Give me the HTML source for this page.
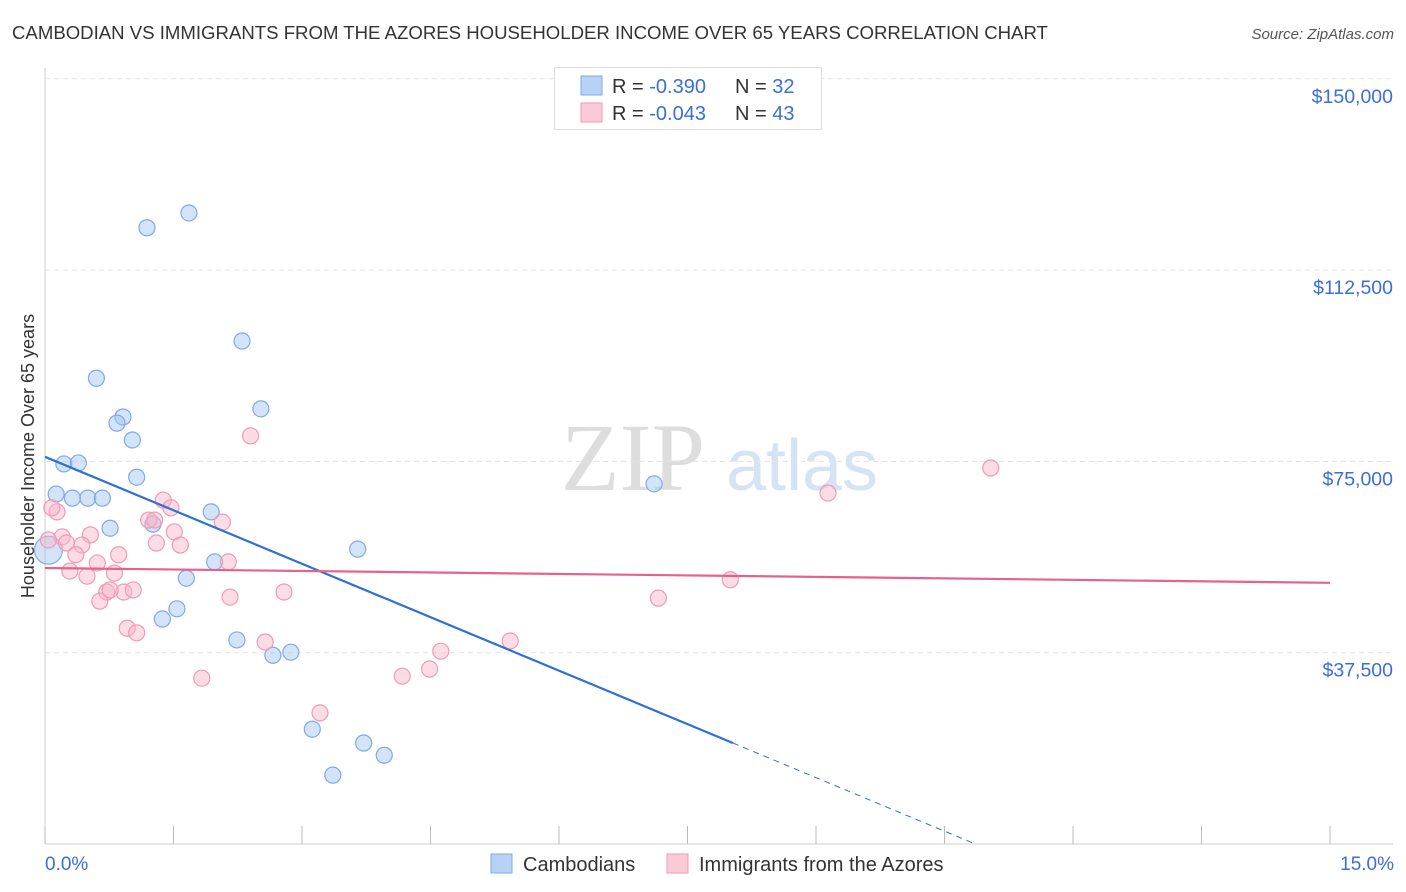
<!DOCTYPE html>
<html><head><meta charset="utf-8"><style>
body{margin:0;background:#fff;font-family:"Liberation Sans",sans-serif;}
#wrap{position:relative;width:1406px;height:892px;overflow:hidden;}
</style></head><body>
<div id="wrap">
<svg id="svg" width="1406" height="892">
<text x="12" y="39" font-size="18.6" fill="#333">CAMBODIAN VS IMMIGRANTS FROM THE AZORES HOUSEHOLDER INCOME OVER 65 YEARS CORRELATION CHART</text>
<text x="1394" y="39" font-size="15" fill="#555" font-style="italic" text-anchor="end">Source: ZipAtlas.com</text>
<text x="633" y="490" font-size="96" fill="#ddd" font-family="Liberation Serif" text-anchor="middle">ZIP</text>
<text x="802" y="490" font-size="72" fill="#d5e3f5" text-anchor="middle">atlas</text>
<text transform="translate(34,456) rotate(-90)" font-size="18" fill="#333" text-anchor="middle">Householder Income Over 65 years</text>
<g id="grid"></g><g id="marks"></g>
<text x="45" y="870" font-size="19" fill="#3a6fd8">0.0%</text>
<text x="1394" y="870" font-size="19" fill="#3a6fd8" text-anchor="end">15.0%</text>
<g>
<rect x="554.5" y="67.5" width="267" height="62" fill="#fff" stroke="#ddd"/>
<rect x="581" y="76" width="21" height="19" fill="#b8d2f5" stroke="#7faae8"/>
<rect x="581" y="103" width="21" height="19" fill="#fbc9d8" stroke="#f09ab5"/>
<text x="612" y="93" font-size="20" fill="#333">R = <tspan fill="#3a6fd8">-0.390</tspan></text>
<text x="735" y="93" font-size="20" fill="#333">N = <tspan fill="#3a6fd8">32</tspan></text>
<text x="612" y="120" font-size="20" fill="#333">R = <tspan fill="#3a6fd8">-0.043</tspan></text>
<text x="735" y="120" font-size="20" fill="#333">N = <tspan fill="#3a6fd8">43</tspan></text>
</g>
<g>
<rect x="491" y="854" width="21" height="19" fill="#b8d2f5" stroke="#7faae8"/>
<text x="523" y="871" font-size="20" fill="#333">Cambodians</text>
<rect x="667" y="854" width="21" height="19" fill="#fbc9d8" stroke="#f09ab5"/>
<text x="699" y="871" font-size="20" fill="#333">Immigrants from the Azores</text>
</g>
</svg></div>
<script>
const yTicks=[37.5,75,112.5,150];
const yTickLabels=["$37,500","$75,000","$112,500","$150,000"];
const xTicks=[0,1.5,3,4.5,6,7.5,9,10.5,12,13.5,15];
const blueX=[1.19,1.68,2.30,0.60,2.52,0.91,0.84,1.02,0.22,0.39,1.07,0.13,0.32,0.50,0.67,0.76,1.26,1.94,3.65,1.98,1.65,1.54,1.37,2.24,2.66,2.87,3.12,3.72,3.96,3.36,7.11,0.04];
const blueY=[120.8,123.7,98.6,91.3,85.3,83.7,82.5,79.2,74.5,74.7,71.9,68.6,67.8,67.8,67.8,61.9,62.7,65.1,57.8,55.3,52.1,46.1,44.1,40.0,37.0,37.6,22.5,19.8,17.4,13.5,70.6,57.6];
const pinkX=[2.40,11.04,9.14,1.38,1.47,0.14,1.21,1.28,2.07,1.51,0.53,0.20,1.58,1.30,0.43,0.25,0.36,0.86,2.14,0.61,0.81,0.29,0.49,8.00,0.92,1.03,0.72,0.64,2.16,2.79,7.16,0.96,1.07,2.57,5.43,4.62,4.49,4.17,1.83,3.21,0.04,0.76,0.08];
const pinkY=[80.0,73.7,68.8,67.4,65.9,65.1,63.5,63.5,63.1,61.2,60.6,60.2,58.6,59.0,58.6,59.0,56.7,56.7,55.3,55.1,53.1,53.5,52.5,51.8,49.4,49.8,49.4,47.6,48.4,49.4,48.2,42.3,41.4,39.6,39.8,37.8,34.3,32.9,32.5,25.7,59.6,49.8,65.9];
const blueLine=[[0,75.9],[8.03,19.8]];
const blueDash=[[8.03,19.8],[10.86,0]];
const pinkLine=[[0,54.1],[15,51.2]];
const X=v=>45+v*1285/15, Y=v=>844-v*191.3/37.5;
const NS="http://www.w3.org/2000/svg";
function mk(t,a,p){const e=document.createElementNS(NS,t);for(const k in a)e.setAttribute(k,a[k]);p.appendChild(e);return e;}
const g=document.getElementById('grid'),m=document.getElementById('marks');
mk('line',{x1:45,y1:68,x2:45,y2:844,stroke:'#ccc'},g);
mk('line',{x1:45,y1:844,x2:1393,y2:844,stroke:'#ccc'},g);
yTicks.forEach((t,i)=>{
 const l=mk('line',{x1:45,y1:Y(t),x2:1393,y2:Y(t),stroke:'#e3e3e3','stroke-dasharray':'5,4'},g);
 
 
 const tx=mk('text',{x:1393,y:Y(t)+24,'font-size':19.5,fill:'#3a6fd8','text-anchor':'end'},g);
 tx.textContent=yTickLabels[i];
 
 
});
xTicks.forEach(t=>{
 const l=mk('line',{x1:X(t),y1:826,x2:X(t),y2:844,stroke:'#bbb'},g);
 
 
});
function pts(xs,ys,fill,stroke,name){xs.forEach((x,i)=>{
 const c=mk('circle',{cx:X(x),cy:Y(ys[i]),r:(i==xs.length-1&&name=='cambodian-point')?14:8,fill:fill,stroke:stroke,'stroke-width':1.2},m);
 
 
});}
pts(blueX,blueY,'rgba(160,195,240,0.45)','#7faae8','cambodian-point');
pts(pinkX,pinkY,'rgba(248,180,200,0.45)','#f09ab5','azores-point');
function ln(a,col,name,dash){const l=mk('line',{x1:X(a[0][0]),y1:Y(a[0][1]),x2:X(a[1][0]),y2:Y(a[1][1]),stroke:col,'stroke-width':dash?1:2.2},m);
 if(dash)l.setAttribute('stroke-dasharray','6,5');
 
 }
ln(blueLine,'#2f6fd6','cambodian-trend-line');
ln(blueDash,'#2f6fd6','cambodian-trend-extension',true);
ln(pinkLine,'#e8608e','azores-trend-line');
</script>
</body></html>
